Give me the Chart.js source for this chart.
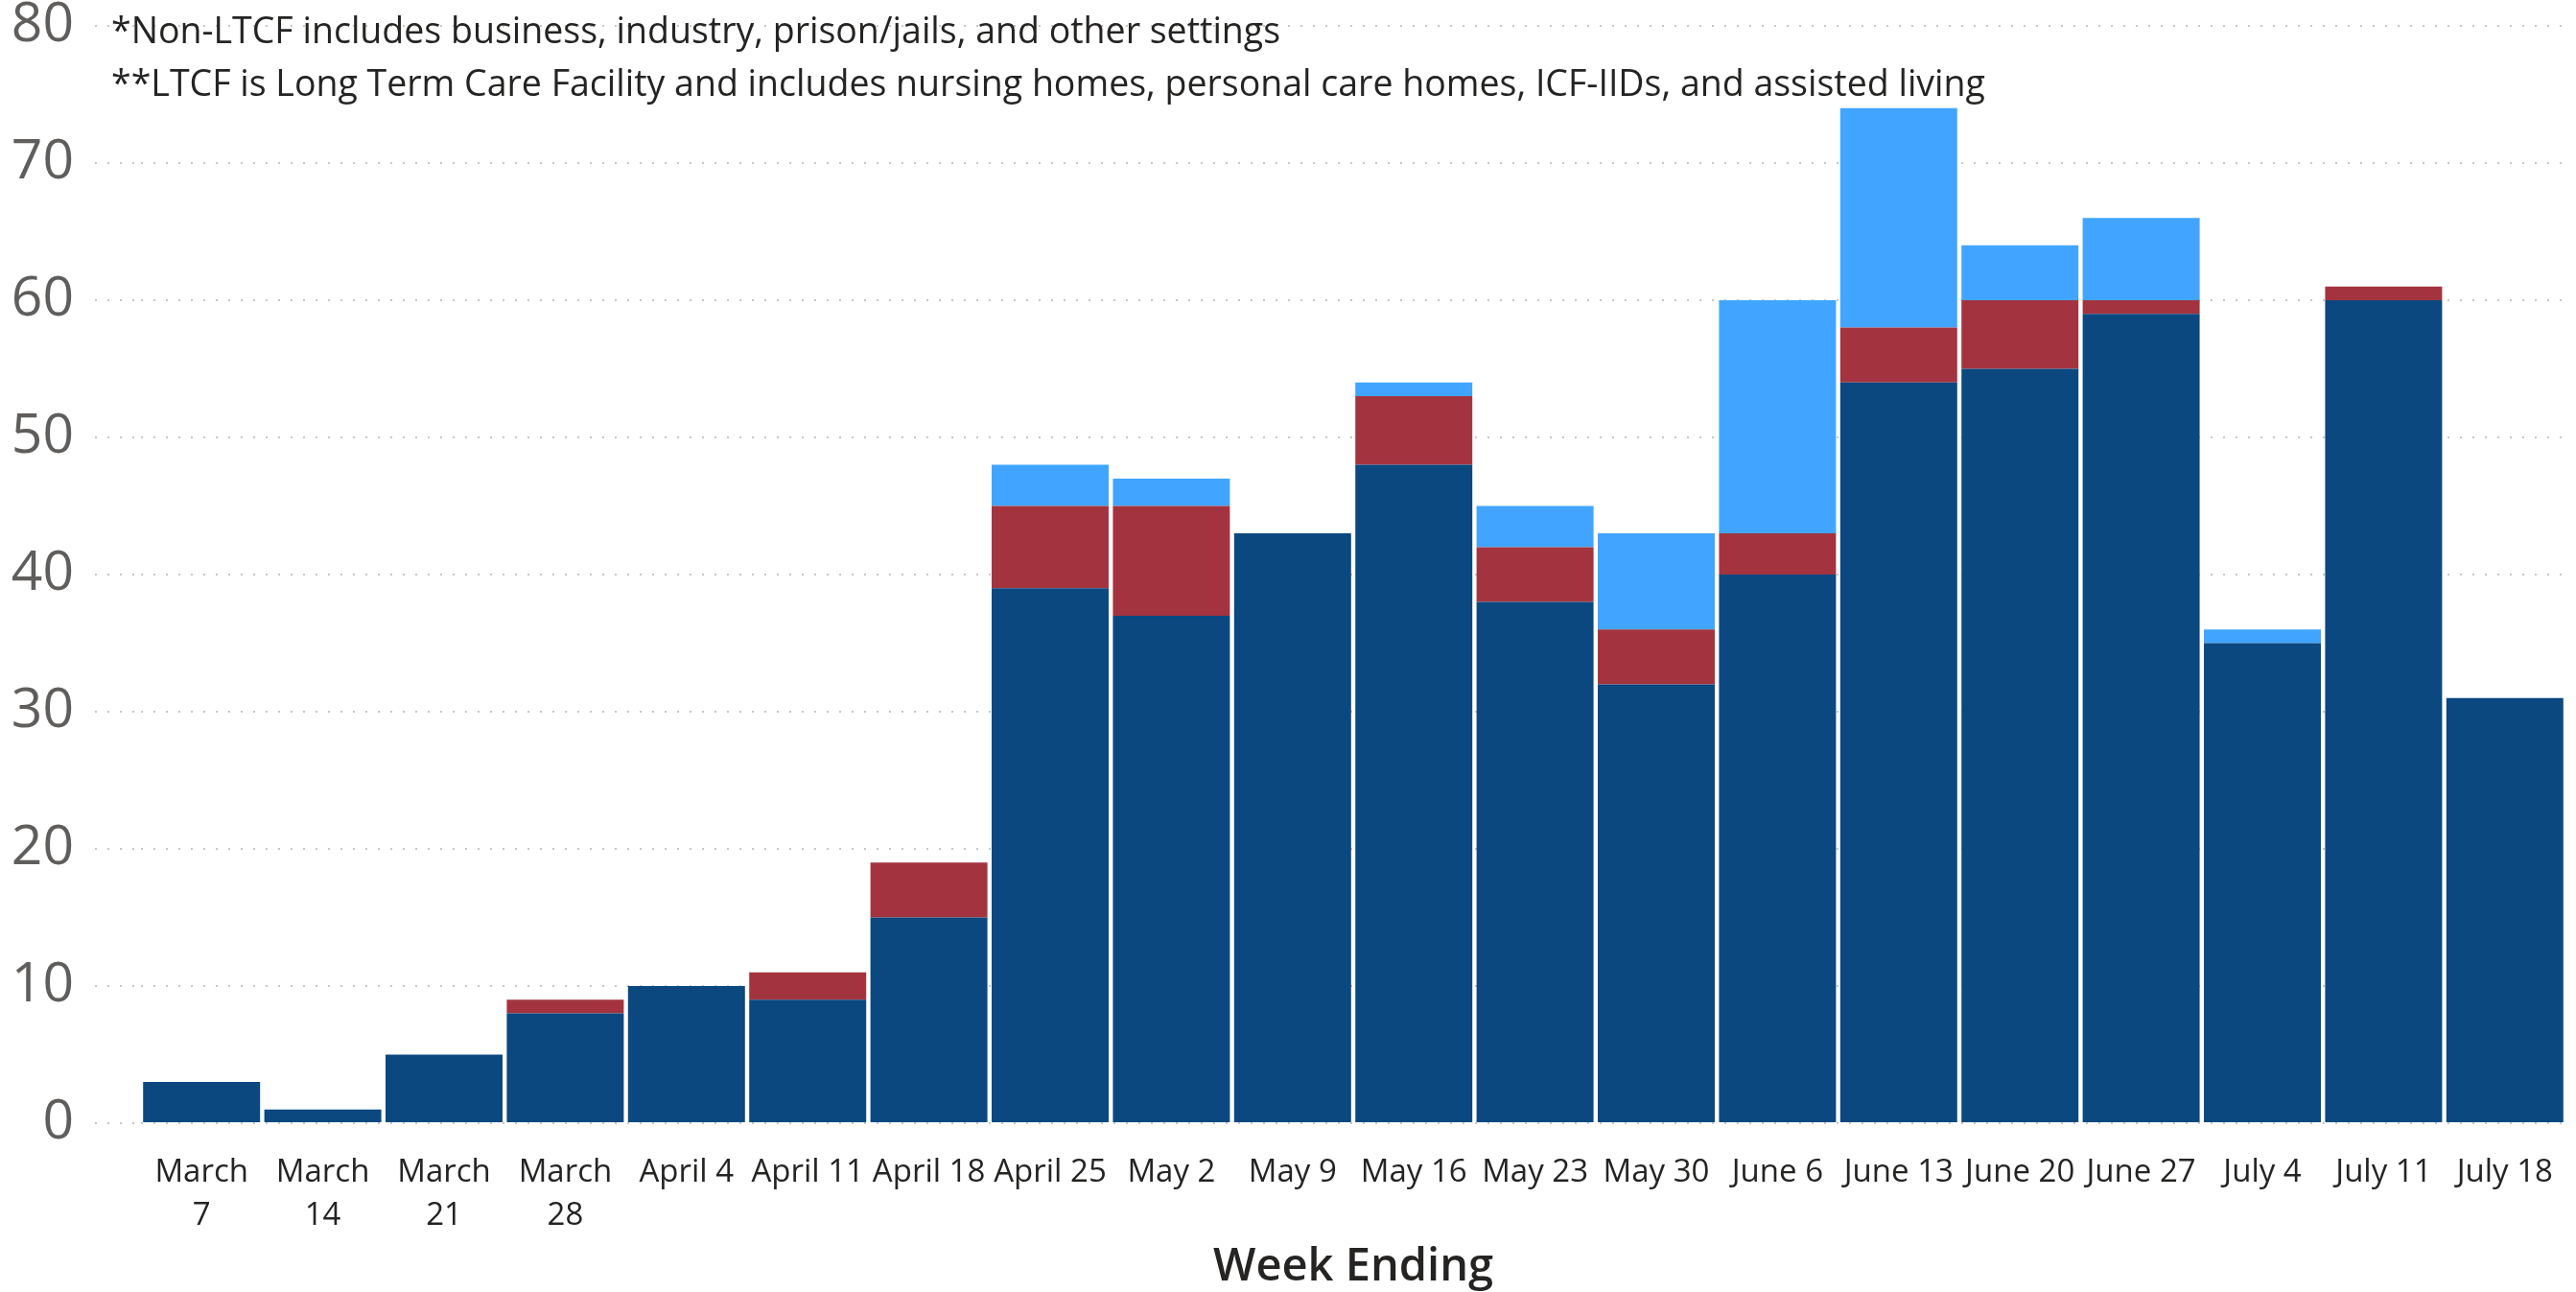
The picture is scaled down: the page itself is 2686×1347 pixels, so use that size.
<!DOCTYPE html>
<html>
<head>
<meta charset="utf-8">
<script src="https://cdn.jsdelivr.net/npm/chart.js@4/dist/chart.umd.min.js"></script>
<style>
  html, body { margin: 0; padding: 0; background: #ffffff; }
  #wrap { position: relative; width: 2686px; height: 1347px; }
  #note {
    position: absolute; left: 116px; top: 3px;
    font-family: "Open Sans", sans-serif; font-size: 37.5px; line-height: 55px;
    color: #252423; white-space: nowrap; pointer-events: none;
  }
</style>
</head>
<body>
<div id="wrap">
  <canvas id="c" width="2686" height="1347"></canvas>
  <div id="note">*Non-LTCF includes business, industry, prison/jails, and other settings<br>**LTCF is Long Term Care Facility and includes nursing homes, personal care homes, ICF-IIDs, and assisted living</div>
</div>
<script>
// ---- data ----
const categories = [
  ["March", "7"], ["March", "14"], ["March", "21"], ["March", "28"],
  "April 4", "April 11", "April 18", "April 25",
  "May 2", "May 9", "May 16", "May 23", "May 30",
  "June 6", "June 13", "June 20", "June 27",
  "July 4", "July 11", "July 18"
];
const seriesDark  = [3, 1, 5, 8, 10, 9, 15, 39, 37, 43, 48, 38, 32, 40, 54, 55, 59, 35, 60, 31];
const seriesRed   = [0, 0, 0, 1, 0, 2, 4, 6, 8, 0, 5, 4, 4, 3, 4, 5, 1, 0, 1, 0];
const seriesLight = [0, 0, 0, 0, 0, 0, 0, 3, 2, 0, 1, 3, 7, 17, 16, 4, 6, 1, 0, 0];
const yTicks = [0, 10, 20, 30, 40, 50, 60, 70, 80];
const xTitle = "Week Ending";

const gridColor = "#C8C6C4";
const dots = [2, 11];

new Chart(document.getElementById("c"), {
  type: "bar",
  data: {
    labels: categories,
    datasets: [
      { label: "LTCF**", data: seriesDark, backgroundColor: "#0B4880", borderWidth: 0, barPercentage: 0.965, categoryPercentage: 1.0 },
      { label: "Non-LTCF*", data: seriesRed, backgroundColor: "#A3343F", borderWidth: 0, barPercentage: 0.965, categoryPercentage: 1.0 },
      { label: "Other", data: seriesLight, backgroundColor: "#41A5FF", borderWidth: 0, barPercentage: 0.965, categoryPercentage: 1.0 }
    ]
  },
  options: {
    responsive: false,
    animation: false,
    devicePixelRatio: 1,
    layout: { autoPadding: false, padding: { top: 27, right: 11, left: 0, bottom: 0 } },
    plugins: { legend: { display: false }, tooltip: { enabled: false } },
    scales: {
      x: {
        stacked: true,
        grid: { display: false, drawTicks: true, tickLength: 29 },
        border: { display: false },
        ticks: {
          color: "#252423", autoSkip: false, maxRotation: 0, minRotation: 0, padding: 0,
          font: { family: "Open Sans", size: 33, lineHeight: 1.37 }
        },
        title: {
          display: true, text: xTitle, color: "#252423",
          font: { family: "Open Sans", size: 47, weight: "600", lineHeight: 1.1 },
          padding: { top: 0, bottom: 0 }
        },
        afterFit: (s) => { s.height = 176; }
      },
      y: {
        stacked: true, min: 0, max: 80,
        afterBuildTicks: (s) => { s.ticks = yTicks.map(v => ({ value: v })); },
        ticks: { color: "#605E5C", padding: 22, font: { family: "Open Sans", size: 57, lineHeight: 0.15 } },
        grid: {
          color: gridColor, lineWidth: 2, borderDash: dots,
          drawTicks: true, tickLength: 48, tickColor: gridColor, tickWidth: 2, tickBorderDash: dots
        },
        border: { display: false, dash: dots },
        afterFit: (s) => { s.width = 147; }
      }
    }
  }
});
</script>
</body>
</html>
